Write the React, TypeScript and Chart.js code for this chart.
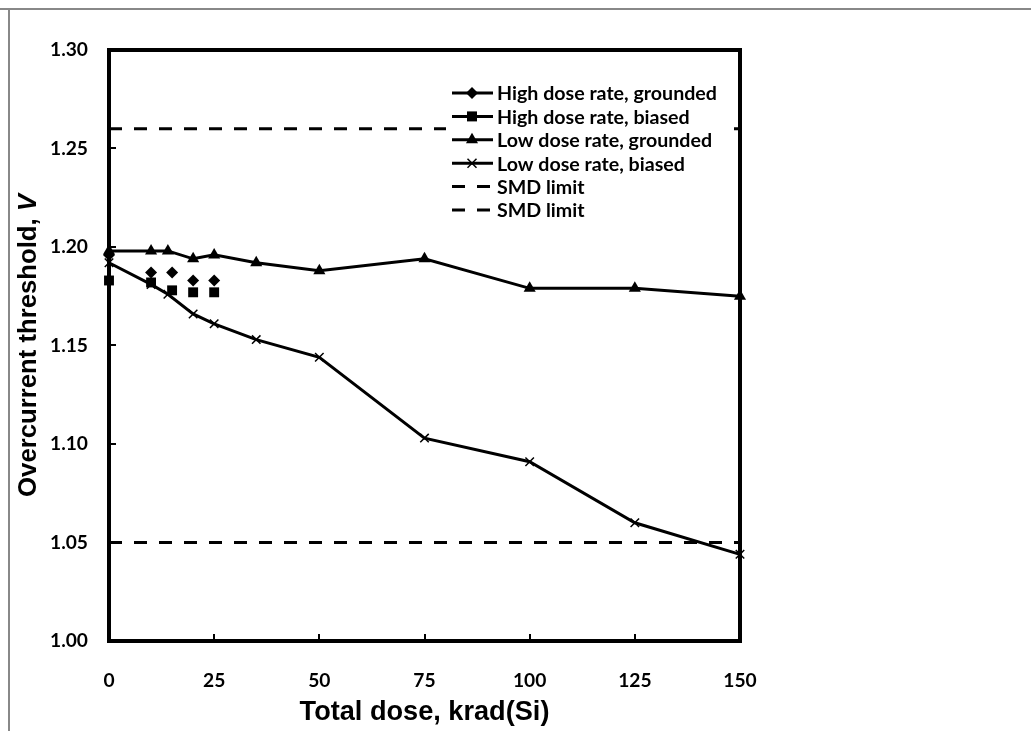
import React, { useEffect, useRef } from "react";
import { Chart, registerables } from "chart.js";
Chart.register(...registerables);

// ---- data ----
const hdrDose = [0, 10, 15, 20, 25];
const hdrGrounded = [1.196, 1.187, 1.187, 1.183, 1.183];
const hdrBiased = [1.183, 1.182, 1.178, 1.177, 1.177];
const ldrDose = [0, 10, 14, 20, 25, 35, 50, 75, 100, 125, 150];
const ldrGrounded = [1.198, 1.198, 1.198, 1.194, 1.196, 1.192, 1.188, 1.194, 1.179, 1.179, 1.175];
const ldrBiased = [1.192, 1.181, 1.176, 1.166, 1.161, 1.153, 1.144, 1.103, 1.091, 1.06, 1.044];
const smdDose = [0, 150];
const smdUpper = [1.26, 1.26];
const smdLower = [1.05, 1.05];
const seriesNames = [
  "High dose rate, grounded",
  "High dose rate, biased",
  "Low dose rate, grounded",
  "Low dose rate, biased",
  "SMD limit",
  "SMD limit",
];
const xAxisTitle = "Total dose, krad(Si)";
const yAxisTitleMain = "Overcurrent threshold, ";
const yAxisTitleUnit = "V";
const xMin = 0, xMax = 150, xStep = 25;
const yMin = 1.0, yMax = 1.3, yStep = 0.05;

const zip = (xs: number[], ys: number[]) => xs.map((x, i) => ({ x, y: ys[i] }));

const LABEL_FONT = "Lato, 'Open Sans', sans-serif";
const TITLE_FONT = "'Liberation Sans', Arial, sans-serif";
const markerKinds = ["diamond", "square", "triangle", "cross", "none", "none"];

let measureCtx: CanvasRenderingContext2D | null = null;
function textW(font: string, text: string) {
  if (!measureCtx) measureCtx = document.createElement("canvas").getContext("2d");
  measureCtx!.font = font;
  return measureCtx!.measureText(text).width;
}
const fit = (text: string, family: string, target: number, style = "") =>
  (100 * target) / textW(`${style} bold 100px ${family}`, text);

function drawMarker(ctx: CanvasRenderingContext2D, kind: string, x: number, y: number) {
  ctx.save();
  ctx.fillStyle = "#000";
  ctx.strokeStyle = "#000";
  ctx.beginPath();
  if (kind === "diamond") {
    const r = 6;
    ctx.moveTo(x, y - r); ctx.lineTo(x + r, y); ctx.lineTo(x, y + r); ctx.lineTo(x - r, y); ctx.closePath(); ctx.fill();
  } else if (kind === "square") {
    const s = 5;
    ctx.rect(x - s, y - s, 2 * s, 2 * s); ctx.fill();
  } else if (kind === "triangle") {
    const r = 7;
    ctx.moveTo(x, y - r); ctx.lineTo(x + 0.866 * r, y + r / 2); ctx.lineTo(x - 0.866 * r, y + r / 2); ctx.closePath(); ctx.fill();
  } else if (kind === "cross") {
    const r = 4.5;
    ctx.lineWidth = 1.5;
    ctx.moveTo(x - r, y - r); ctx.lineTo(x + r, y + r); ctx.moveTo(x + r, y - r); ctx.lineTo(x - r, y + r); ctx.stroke();
  }
  ctx.restore();
}

function makeDeco(sizes: { legend: number; xTitle: number; yTitle: number }) {
  return {
    id: "deco",
    beforeDatasetsDraw(chart: any) {
      const { ctx, chartArea: a, scales } = chart;
      ctx.save();
      ctx.strokeStyle = "#000";
      ctx.lineWidth = 4;
      ctx.strokeRect(a.left, a.top, a.right - a.left, a.bottom - a.top);
      ctx.lineWidth = 2;
      ctx.beginPath();
      for (let v = yMin + yStep; v < yMax - 1e-9; v += yStep) {
        const py = Math.round(scales.y.getPixelForValue(v));
        ctx.moveTo(a.left, py); ctx.lineTo(a.left + 7, py);
      }
      for (let v = xMin + xStep; v < xMax - 1e-9; v += xStep) {
        const px = Math.round(scales.x.getPixelForValue(v));
        ctx.moveTo(px, a.bottom); ctx.lineTo(px, a.bottom - 7);
      }
      ctx.stroke();
      ctx.restore();
    },
    afterDatasetsDraw(chart: any) {
      const { ctx } = chart;
      const bx = 446, by = 80, bw = 283, bh = 143;
      ctx.save();
      ctx.fillStyle = "#fff";
      ctx.fillRect(bx, by, bw, bh);
      ctx.font = `bold ${sizes.legend}px ${LABEL_FONT}`;
      ctx.textBaseline = "middle";
      chart.data.datasets.forEach((ds: any, i: number) => {
        const y = 93 + i * 23.4;
        ctx.strokeStyle = "#000";
        ctx.lineWidth = 3;
        ctx.beginPath();
        if (markerKinds[i] === "none") {
          ctx.moveTo(452, y); ctx.lineTo(465, y);
          ctx.moveTo(477, y); ctx.lineTo(490, y);
        } else {
          ctx.moveTo(452, y); ctx.lineTo(493, y);
        }
        ctx.stroke();
        drawMarker(ctx, markerKinds[i], 472, y);
        ctx.fillStyle = "#000";
        ctx.fillText(ds.label, 497, y + 1);
      });
      ctx.restore();
    },
    afterDraw(chart: any) {
      const { ctx, chartArea: a } = chart;
      ctx.save();
      ctx.fillStyle = "#000";
      ctx.textBaseline = "middle";
      // x title
      ctx.font = `bold ${sizes.xTitle}px ${TITLE_FONT}`;
      ctx.textAlign = "center";
      ctx.fillText(xAxisTitle, (a.left + a.right) / 2, 713);
      // y title
      ctx.translate(29, (a.top + a.bottom) / 2);
      ctx.rotate(-Math.PI / 2);
      const f1 = `bold ${sizes.yTitle}px ${TITLE_FONT}`;
      const f2 = `italic bold ${sizes.yTitle}px ${TITLE_FONT}`;
      ctx.font = f1;
      const w1 = ctx.measureText(yAxisTitleMain).width;
      ctx.font = f2;
      const w2 = ctx.measureText(yAxisTitleUnit).width;
      const start = -(w1 + w2) / 2;
      ctx.textAlign = "left";
      ctx.font = f1;
      ctx.fillText(yAxisTitleMain, start, 0);
      ctx.font = f2;
      ctx.fillText(yAxisTitleUnit, start + w1, 0);
      ctx.restore();
    },
  };
}

export default function App() {
  const ref = useRef<HTMLCanvasElement>(null);
  useEffect(() => {
    document.body.style.margin = "0";
    document.body.style.overflow = "hidden";
    const tickSize = fit("1.20", LABEL_FONT, 38);
    const legendSize = fit(seriesNames[0], LABEL_FONT, 220);
    const xTitleSize = fit(xAxisTitle, TITLE_FONT, 250);
    const yW = textW(`bold 100px ${TITLE_FONT}`, yAxisTitleMain) + textW(`italic bold 100px ${TITLE_FONT}`, yAxisTitleUnit);
    const yTitleSize = (100 * 303) / yW;

    const lineCommon = { borderColor: "#000", backgroundColor: "#000", pointBackgroundColor: "#000", pointBorderColor: "#000", clip: false as any };
    const tickFont = { family: LABEL_FONT, weight: "bold", size: tickSize };
    const chart = new Chart(ref.current!, {
      type: "scatter",
      data: {
        datasets: [
          { ...lineCommon, label: seriesNames[0], data: zip(hdrDose, hdrGrounded), showLine: false, pointStyle: "rectRot", pointRadius: 6, pointBorderWidth: 0 },
          { ...lineCommon, label: seriesNames[1], data: zip(hdrDose, hdrBiased), showLine: false, pointStyle: "rect", pointRadius: 7, pointBorderWidth: 0 },
          { ...lineCommon, label: seriesNames[2], data: zip(ldrDose, ldrGrounded), showLine: true, borderWidth: 3, pointStyle: "triangle", pointRadius: 7, pointBorderWidth: 0 },
          { ...lineCommon, label: seriesNames[3], data: zip(ldrDose, ldrBiased), showLine: true, borderWidth: 3, pointStyle: "crossRot", pointRadius: 6, pointBorderWidth: 1.5 },
          { ...lineCommon, label: seriesNames[4], data: zip(smdDose, smdUpper), showLine: true, borderWidth: 3, borderDash: [13, 12], pointRadius: 0 },
          { ...lineCommon, label: seriesNames[5], data: zip(smdDose, smdLower), showLine: true, borderWidth: 3, borderDash: [13, 12], pointRadius: 0 },
        ],
      } as any,
      options: {
        responsive: false,
        animation: false,
        layout: { padding: { left: 0, top: 50, right: 1031 - 740, bottom: 0 } },
        plugins: { legend: { display: false }, tooltip: { enabled: false } },
        scales: {
          x: {
            type: "linear", min: xMin, max: xMax,
            grid: { display: false, drawTicks: false }, border: { display: false },
            ticks: { stepSize: xStep, padding: 28, color: "#000", font: tickFont, maxRotation: 0 },
            afterFit: (s: any) => { s.height = 90; },
          },
          y: {
            type: "linear", min: yMin, max: yMax,
            grid: { display: false, drawTicks: false }, border: { display: false },
            ticks: { stepSize: yStep, padding: 21, color: "#000", font: tickFont, callback: (v: any) => Number(v).toFixed(2) },
            afterFit: (s: any) => { s.width = 109; },
          },
        },
      } as any,
      plugins: [makeDeco({ legend: legendSize, xTitle: xTitleSize, yTitle: yTitleSize })],
    });
    return () => chart.destroy();
  }, []);
  return (
    <div style={{ position: "relative", width: 1031, height: 731, background: "#fff" }}>
      <canvas ref={ref} width={1031} height={731} style={{ display: "block" }} />
      <div style={{ position: "absolute", left: 0, top: 8, width: 1031, height: 0, borderTop: "2px solid #888" }} />
      <div style={{ position: "absolute", left: 8, top: 8, width: 0, height: 723, borderLeft: "2px solid #888" }} />
    </div>
  );
}
